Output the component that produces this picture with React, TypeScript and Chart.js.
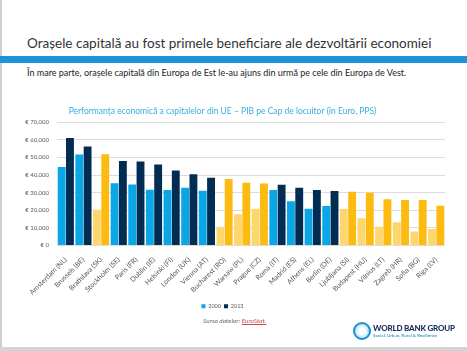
import React, { useEffect, useRef } from "react";
import { Chart, registerables } from "chart.js";

Chart.register(...registerables);

const cities = [
  "Amsterdam (NL)", "Brussels (BE)", "Bratislava (SK)", "Stockholm (SE)", "Paris (FR)",
  "Dublin (IE)", "Helsinki (FI)", "London (UK)", "Vienna (AT)", "Bucharest (RO)",
  "Warsaw (PL)", "Prague (CZ)", "Roma (IT)", "Madrid (ES)", "Athens (EL)",
  "Berlin (DE)", "Ljubljana (SI)", "Budapest (HU)", "Vilnius (LT)", "Zagreb (HR)",
  "Sofia (BG)", "Riga (LV)",
];
const eastern = [
  "Bratislava (SK)", "Bucharest (RO)", "Warsaw (PL)", "Prague (CZ)", "Ljubljana (SI)",
  "Budapest (HU)", "Vilnius (LT)", "Zagreb (HR)", "Sofia (BG)", "Riga (LV)",
];
const gdp2000 = [
  44600, 51600, 20300, 35400, 34700, 31600, 31500, 32800, 31100, 10400,
  17700, 20900, 31500, 25100, 20900, 22400, 20700, 15500, 10600, 13200, 7900, 9300,
];
const gdp2013 = [
  61000, 56200, 51800, 48000, 47700, 46000, 42600, 40500, 38400, 37700,
  35600, 35200, 34500, 32800, 31500, 30900, 30500, 29900, 26200, 25800, 25800, 22600,
];
const seriesLabels = ["2000", "2013"];
const yMax = 70000;
const yStep = 10000;

const C2000 = "#0aa6e6";
const C2013 = "#022c52";
const E2000 = "#fed66e";
const E2013 = "#fdbb12";

function ChartBox() {
  const ref = useRef<HTMLCanvasElement | null>(null);
  useEffect(() => {
    if (!ref.current) return;
    const isEast = cities.map((c) => eastern.includes(c));
    const chart = new Chart(ref.current, {
      type: "bar",
      data: {
        labels: cities,
        datasets: [
          {
            label: seriesLabels[0],
            data: gdp2000,
            backgroundColor: isEast.map((e) => (e ? E2000 : C2000)),
            categoryPercentage: 0.94,
            barPercentage: 0.95,
          },
          {
            label: seriesLabels[1],
            data: gdp2013,
            backgroundColor: isEast.map((e) => (e ? E2013 : C2013)),
            categoryPercentage: 0.94,
            barPercentage: 0.95,
          },
        ],
      },
      options: {
        animation: false,
        responsive: false,
        maintainAspectRatio: false,
        layout: { padding: { left: 0, right: 22, top: 0, bottom: 0 } },
        plugins: {
          title: {
            display: true,
            text: "Performanța economică a capitalelor din UE – PIB pe Cap de locuitor (în Euro, PPS)",
            color: "#38aee0",
            font: { family: "Lato", size: 8.5, weight: "normal" },
            padding: { top: 6, bottom: 6 },
          },
          legend: {
            display: true,
            position: "bottom",
            labels: {
              boxWidth: 4,
              boxHeight: 4,
              padding: 3,
              color: "#595959",
              font: { family: "Lato", size: 5.5 },
              generateLabels: () => [
                { text: seriesLabels[0], fillStyle: C2000, strokeStyle: C2000, lineWidth: 0, datasetIndex: 0, fontColor: "#595959" },
                { text: seriesLabels[1], fillStyle: C2013, strokeStyle: C2013, lineWidth: 0, datasetIndex: 1, fontColor: "#595959" },
              ] as any,
            },
          },
          tooltip: { enabled: false },
        },
        scales: {
          x: {
            grid: { display: false },
            border: { display: false },
            ticks: {
              autoSkip: false,
              minRotation: 45,
              maxRotation: 45,
              padding: 2,
              color: "#595959",
              font: { family: "Lato", size: 7 },
            },
            afterFit: (s: any) => {
              s.height = 55;
            },
          },
          y: {
            min: 0,
            max: yMax,
            grid: { color: "#dcdcdc", drawTicks: false },
            border: { display: false },
            ticks: {
              stepSize: yStep,
              padding: 8,
              color: "#595959",
              font: { family: "Lato", size: 6 },
              callback: (v: any) => "€ " + Number(v).toLocaleString("en-US"),
            },
            afterFit: (s: any) => {
              s.width = 57;
            },
          },
        },
      },
    });
    return () => chart.destroy();
  }, []);
  return (
    <canvas
      ref={ref}
      width={467}
      height={219}
      style={{ position: "absolute", left: 0, top: 100, width: 467, height: 219 }}
    />
  );
}

export default function App() {
  return (
    <div
      style={{
        position: "fixed",
        left: 0,
        top: 0,
        width: 467,
        height: 351,
        background: "#fff",
        overflow: "hidden",
        fontFamily: "Lato, sans-serif",
      }}
    >
      <div style={{ position: "absolute", left: 0, top: 0, width: 2, height: 351, background: "#cfcfcf" }} />
      <div style={{ position: "absolute", left: 0, top: 347, width: 467, height: 4, background: "#d4d4d4" }} />
      <div
        style={{
          position: "absolute",
          left: 27,
          top: 35,
          fontSize: 13.5,
          color: "#333",
          whiteSpace: "nowrap",
          lineHeight: "16px",
        }}
      >
        Orașele capitală au fost primele beneficiare ale dezvoltării economiei
      </div>
      <div style={{ position: "absolute", left: 0, top: 56, width: 467, height: 7, background: "#1e92da" }} />
      <div
        style={{
          position: "absolute",
          left: 27,
          top: 67,
          fontSize: 9,
          color: "#222",
          whiteSpace: "nowrap",
          lineHeight: "12px",
        }}
      >
        În mare parte, orașele capitală din Europa de Est le-au ajuns din urmă pe cele din Europa de Vest.
      </div>
      <ChartBox />
      <div
        style={{
          position: "absolute",
          left: 203,
          top: 316,
          fontSize: 6.5,
          fontStyle: "italic",
          color: "#666",
          whiteSpace: "nowrap",
          lineHeight: "9px",
        }}
      >
        Sursa datelor:{" "}
        <span style={{ color: "#c0504d", textDecoration: "underline" }}>EuroStat.</span>
      </div>
      <div
        style={{
          position: "absolute",
          left: 353,
          top: 322,
          width: 14,
          height: 14,
          borderRadius: "50%",
          border: "2px solid #1f8fd0",
          background: "radial-gradient(circle, #ffffff 30%, #8ccdee 100%)",
        }}
      />
      <div
        style={{
          position: "absolute",
          left: 373,
          top: 323,
          fontSize: 8,
          fontWeight: 900,
          color: "#1b2f5a",
          whiteSpace: "nowrap",
          lineHeight: "10px",
          letterSpacing: -0.2,
        }}
      >
        WORLD BANK GROUP
      </div>
      <div
        style={{
          position: "absolute",
          left: 373,
          top: 333,
          fontSize: 4.5,
          fontWeight: 700,
          color: "#3aa0d8",
          whiteSpace: "nowrap",
          lineHeight: "6px",
        }}
      >
        Social, Urban, Rural &amp; Resilience
      </div>
    </div>
  );
}
